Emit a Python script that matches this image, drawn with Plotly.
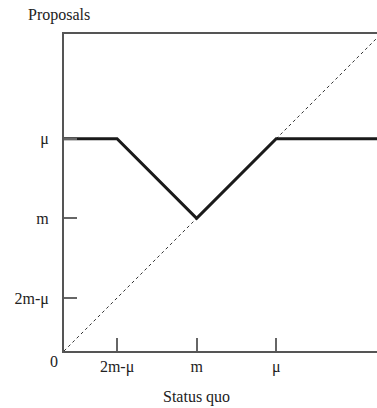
import plotly.graph_objects as go

# Reference levels (in units where m = 1)
level_names = ["2m-μ", "m", "μ"]
m_val = 1.0
mu_val = 1.6
low_val = 2 * m_val - mu_val  # 2m-μ

x_max = 2.36
y_max = 2.39

# Proposal as a function of the status quo
sq_points = [0.0, low_val, m_val, mu_val, x_max]
proposal_points = [mu_val, mu_val, m_val, mu_val, mu_val]

# 45-degree reference line
diag_x = [0.0, x_max]
diag_y = [0.0, x_max]

tick_vals = [low_val, m_val, mu_val]

font_family = "Liberation Serif, Times New Roman, serif"
fs = 16

fig = go.Figure()
fig.add_trace(go.Scatter(
    x=diag_x, y=diag_y, mode="lines",
    line=dict(color="#333333", width=1, dash="dot"),
    hoverinfo="skip", showlegend=False, cliponaxis=True,
))
fig.add_trace(go.Scatter(
    x=sq_points, y=proposal_points, mode="lines",
    line=dict(color="#1a1a1a", width=3),
    showlegend=False,
))

axis_common = dict(
    showgrid=False, zeroline=False,
    showline=True, linecolor="#555555", linewidth=2,
    ticks="inside", ticklen=13, tickwidth=1.5, tickcolor="#666666",
    tickfont=dict(family=font_family, size=fs, color="#222222"),
    fixedrange=True,
)

fig.update_layout(
    width=377, height=408,
    margin=dict(l=64, r=0, t=34, b=57),
    paper_bgcolor="white", plot_bgcolor="white",
    font=dict(family=font_family, size=fs, color="#222222"),
    xaxis=dict(range=[0, x_max], tickvals=tick_vals, ticktext=level_names,
               mirror=True, ticklabelstandoff=0, **axis_common),
    yaxis=dict(range=[0, y_max], tickvals=tick_vals, ticktext=level_names,
               mirror=False, ticklabelstandoff=10, **axis_common),
    annotations=[
        dict(text="Proposals", xref="paper", yref="paper", x=-0.12, y=1.025,
             xanchor="left", yanchor="bottom", showarrow=False,
             font=dict(family=font_family, size=fs, color="#222222")),
        dict(text="Status quo", xref="x", yref="paper", x=m_val, y=-0.11,
             xanchor="center", yanchor="top", showarrow=False,
             font=dict(family=font_family, size=fs, color="#222222")),
        dict(text="0", xref="paper", yref="paper", x=-0.012, y=0.0,
             xanchor="right", yanchor="top", showarrow=False,
             font=dict(family=font_family, size=fs, color="#222222")),
    ],
)

fig.write_html("out.html")
